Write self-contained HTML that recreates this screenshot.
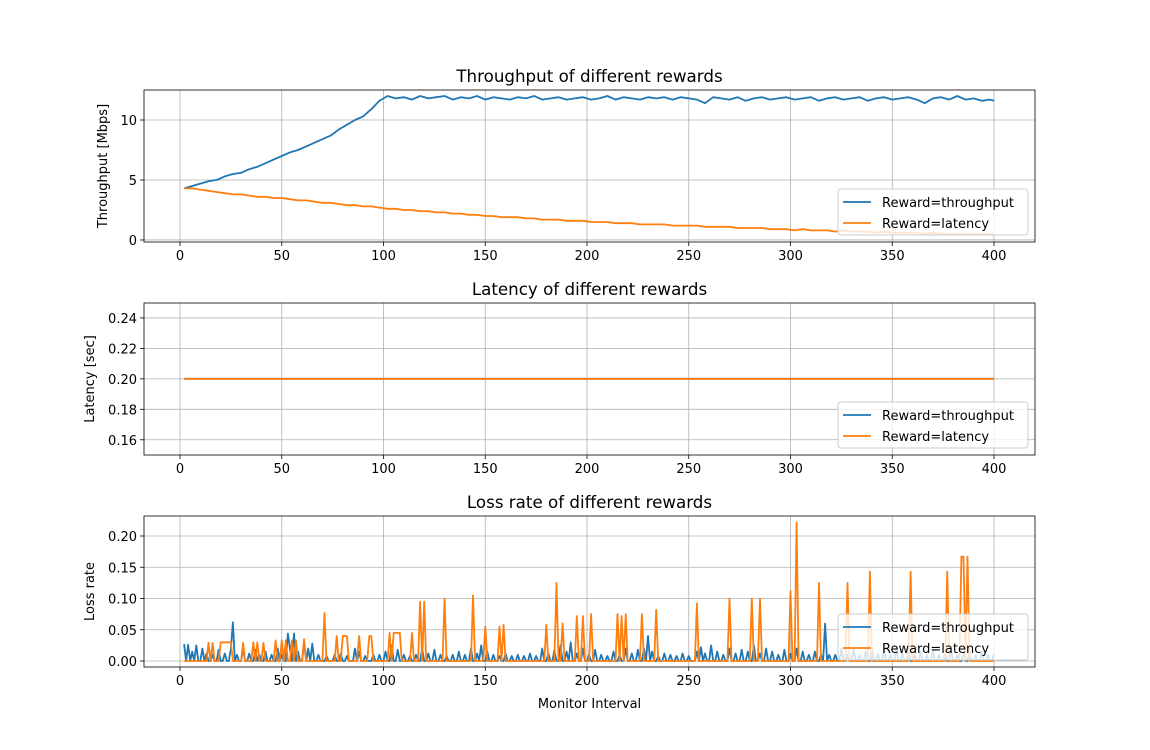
<!DOCTYPE html>
<html><head><meta charset="utf-8"><style>
body{margin:0;background:#fff}
svg{display:block;font-family:"DejaVu Sans","Liberation Sans",sans-serif}
</style></head><body>
<svg id="fig" width="1150" height="750" viewBox="0 0 1150 750"></svg>
<script>
// ---- data ----
const thrX = [2,6,10,14,18,22,26,30,34,38,42,46,50,54,58,62,66,70,74,78,82,86,90,94,98,102,106,110,114,118,122,126,130,134,138,142,146,150,154,158,162,166,170,174,178,182,186,190,194,198,202,206,210,214,218,222,226,230,234,238,242,246,250,254,258,262,266,270,274,278,282,286,290,294,298,302,306,310,314,318,322,326,330,334,338,342,346,350,354,358,362,366,370,374,378,382,386,390,394,398,400];
const thrRewardThroughput = [4.3,4.5,4.7,4.9,5.0,5.3,5.5,5.6,5.9,6.1,6.4,6.7,7.0,7.3,7.5,7.8,8.1,8.4,8.7,9.2,9.6,10.0,10.3,10.9,11.6,12.0,11.8,11.9,11.7,12.0,11.8,11.9,12.0,11.7,11.9,11.8,12.0,11.7,11.9,11.8,11.7,11.9,11.8,12.0,11.7,11.8,11.9,11.7,11.8,11.9,11.7,11.8,12.0,11.7,11.9,11.8,11.7,11.9,11.8,11.9,11.7,11.9,11.8,11.7,11.4,11.9,11.8,11.7,11.9,11.6,11.8,11.9,11.7,11.8,11.9,11.7,11.8,11.9,11.6,11.8,11.9,11.7,11.8,11.9,11.6,11.8,11.9,11.7,11.8,11.9,11.7,11.4,11.8,11.9,11.7,12.0,11.7,11.8,11.6,11.7,11.6];
const thrRewardLatency = [4.3,4.3,4.2,4.1,4.0,3.9,3.8,3.8,3.7,3.6,3.6,3.5,3.5,3.4,3.3,3.3,3.2,3.1,3.1,3.0,2.9,2.9,2.8,2.8,2.7,2.6,2.6,2.5,2.5,2.4,2.4,2.3,2.3,2.2,2.2,2.1,2.1,2.0,2.0,1.9,1.9,1.9,1.8,1.8,1.7,1.7,1.7,1.6,1.6,1.6,1.5,1.5,1.5,1.4,1.4,1.4,1.3,1.3,1.3,1.3,1.2,1.2,1.2,1.2,1.1,1.1,1.1,1.1,1.0,1.0,1.0,1.0,0.9,0.9,0.9,0.8,0.9,0.8,0.8,0.8,0.7,0.8,0.7,0.7,0.7,0.6,0.7,0.6,0.6,0.6,0.6,0.5,0.6,0.5,0.5,0.5,0.5,0.5,0.5,0.5,0.5];
const latX = [2,400];
const latRewardThroughput = [0.2,0.2];
const latRewardLatency = [0.2,0.2];
const lossThroughputPairs = [[2,.027],[4,.026],[6,.015],[8,.025],[11,.02],[13,.012],[16,.01],[19,.018],[22,.012],[25,.02],[26,.062],[28,.01],[31,.02],[34,.012],[37,.018],[39,.01],[42,.015],[45,.01],[48,.02],[50,.01],[53,.044],[54,.02],[56,.044],[58,.015],[61,.03],[63,.02],[65,.028],[68,.01],[72,.008],[76,.01],[79,.012],[82,.008],[86,.02],[88,.015],[91,.008],[95,.01],[98,.01],[101,.015],[104,.025],[107,.018],[110,.01],[113,.008],[116,.01],[119,.02],[122,.012],[125,.018],[128,.01],[131,.008],[134,.01],[137,.015],[140,.01],[143,.02],[146,.012],[148,.025],[151,.015],[154,.01],[157,.008],[160,.012],[163,.008],[166,.01],[169,.008],[172,.012],[175,.008],[178,.02],[181,.012],[184,.018],[187,.025],[190,.015],[192,.03],[195,.012],[198,.02],[201,.01],[204,.018],[207,.01],[210,.008],[213,.015],[216,.01],[219,.02],[222,.012],[225,.018],[228,.02],[230,.04],[232,.015],[235,.008],[238,.012],[241,.01],[244,.008],[247,.012],[250,.008],[254,.015],[256,.022],[258,.012],[261,.025],[264,.015],[267,.01],[270,.02],[273,.012],[276,.018],[279,.015],[282,.025],[285,.012],[288,.02],[291,.015],[294,.01],[297,.018],[300,.012],[303,.02],[306,.015],[309,.01],[312,.015],[315,.01],[317,.06],[319,.01],[322,.01],[325,.02],[328,.01],[331,.02],[334,.01],[337,.015],[340,.02],[343,.012],[346,.018],[349,.01],[352,.02],[355,.012],[358,.018],[361,.01],[364,.015],[367,.01],[370,.018],[373,.01],[376,.012],[379,.015],[382,.01],[385,.012],[388,.015],[391,.01],[394,.015],[397,.01],[400,.012]];
const lossLatencyPairs = [[14,.029],[16,.029],[20,.03],[21,.03],[22,.03],[23,.03],[24,.03],[25,.03],[31,.029],[36,.03],[38,.03],[41,.029],[47,.033],[50,.033],[52,.033],[55,.033],[57,.033],[61,.035],[71,.077],[77,.04],[80,.04],[81,.04],[82,.04],[88,.04],[93,.04],[94,.04],[103,.045],[105,.045],[106,.045],[107,.045],[108,.045],[114,.045],[118,.095],[120,.095],[130,.1],[144,.105],[150,.055],[157,.055],[159,.058],[180,.058],[185,.125],[188,.06],[195,.072],[198,.072],[202,.075],[215,.075],[217,.072],[219,.075],[227,.075],[234,.082],[254,.092],[270,.1],[281,.1],[285,.1],[300,.112],[303,.222],[314,.125],[328,.125],[339,.143],[359,.143],[377,.143],[384,.167],[385,.167],[387,.167]];
const xTicks = [0,50,100,150,200,250,300,350,400];
const thrTicks = [0,5,10];
const latTicks = [0.16,0.18,0.20,0.22,0.24];
const lossTicks = [0,0.05,0.10,0.15,0.20];

const NS = "http://www.w3.org/2000/svg";
const svg = document.getElementById('fig');
function el(tag, attrs, parent){const e=document.createElementNS(NS,tag);for(const k in attrs)e.setAttribute(k,attrs[k]);(parent||svg).appendChild(e);return e;}
const L=144,R=1035;
const xs = v => 180 + v*(994-180)/400;
const BLUE='#1f77b4', ORANGE='#ff7f0e';

function expand(pairs){const xsA=[],ys=[];const m={};pairs.forEach(p=>m[p[0]]=p[1]);for(let i=2;i<=400;i++){xsA.push(i);ys.push(m[i]||0);}return [xsA,ys];}

function panel(name,top,bot,ymin,ymax,ticks,fmt,title,ylabel,ylx,series,showX){
  const g=el('g',{});
  
  
  const ys=v=>bot-(v-ymin)*(bot-top)/(ymax-ymin);
  xTicks.forEach(t=>{
    el('line',{x1:xs(t),x2:xs(t),y1:top,y2:bot,stroke:'#b0b0b0','stroke-width':0.8},g);
    el('line',{x1:xs(t),x2:xs(t),y1:bot,y2:bot+4,stroke:'#000','stroke-width':0.8},g);
    const tx=el('text',{x:xs(t),y:bot+18,'font-size':13,'text-anchor':'middle'},g);tx.textContent=t;
    
    
  });
  ticks.forEach(t=>{
    el('line',{x1:L,x2:R,y1:ys(t),y2:ys(t),stroke:'#b0b0b0','stroke-width':0.8},g);
    el('line',{x1:L-4,x2:L,y1:ys(t),y2:ys(t),stroke:'#000','stroke-width':0.8},g);
    const tx=el('text',{x:L-7,y:ys(t)+5,'font-size':13,'text-anchor':'end'},g);tx.textContent=fmt(t);
    
    
  });
  const cp='clip-'+name;
  const cl=el('clipPath',{id:cp},g);el('rect',{x:L,y:top,width:R-L,height:bot-top},cl);
  series.forEach(s=>{
    const d=s.x.map((x,i)=>(i?'L':'M')+xs(x).toFixed(1)+','+ys(s.y[i]).toFixed(1)).join('');
    const p=el('path',{d:d,fill:'none',stroke:s.c,'stroke-width':1.8,'stroke-linejoin':'round','clip-path':'url(#'+cp+')'},g);
    
    
  });
  el('rect',{x:L,y:top,width:R-L,height:bot-top,fill:'none',stroke:'#000','stroke-width':0.8},g);
  const ti=el('text',{x:(L+R)/2,y:top-8,'font-size':16.7,'text-anchor':'middle'},g);ti.textContent=title;
  
  
  const yl=el('text',{x:0,y:0,'font-size':13,'text-anchor':'middle',transform:'translate('+ylx+','+((top+bot)/2)+') rotate(-90)'},g);yl.textContent=ylabel;
  
  
  const lg=el('g',{},g);
  
  
  el('rect',{x:838,y:bot-53,width:190,height:46,rx:3,fill:'#fff','fill-opacity':0.8,stroke:'#ccc'},lg);
  [['Reward=throughput',BLUE],['Reward=latency',ORANGE]].forEach((e,i)=>{
    const yy=bot-53+13+i*21;
    el('line',{x1:843,x2:871,y1:yy,y2:yy,stroke:e[1],'stroke-width':1.8},lg);
    const t=el('text',{x:882,y:yy+5,'font-size':13},lg);t.textContent=e[0];
    
    
  });
  if(showX){const xl=el('text',{x:(L+R)/2,y:708,'font-size':13,'text-anchor':'middle'},g);xl.textContent='Monitor Interval';
    
    }
}
panel('throughput',90,242,-0.17,12.5,thrTicks,t=>String(t),'Throughput of different rewards','Throughput [Mbps]',107,
  [{x:thrX,y:thrRewardThroughput,c:BLUE,n:'throughput-line-reward-throughput'},{x:thrX,y:thrRewardLatency,c:ORANGE,n:'throughput-line-reward-latency'}],false);
panel('latency',303,455,0.150,0.2498,latTicks,t=>t.toFixed(2),'Latency of different rewards','Latency [sec]',94,
  [{x:latX,y:latRewardThroughput,c:BLUE,n:'latency-line-reward-throughput'},{x:latX,y:latRewardLatency,c:ORANGE,n:'latency-line-reward-latency'}],false);
const lt=expand(lossThroughputPairs), ll=expand(lossLatencyPairs);
panel('loss',516,667,-0.0096,0.232,lossTicks,t=>t.toFixed(2),'Loss rate of different rewards','Loss rate',94,
  [{x:lt[0],y:lt[1],c:BLUE,n:'loss-line-reward-throughput'},{x:ll[0],y:ll[1],c:ORANGE,n:'loss-line-reward-latency'}],true);
</script>
</body></html>
